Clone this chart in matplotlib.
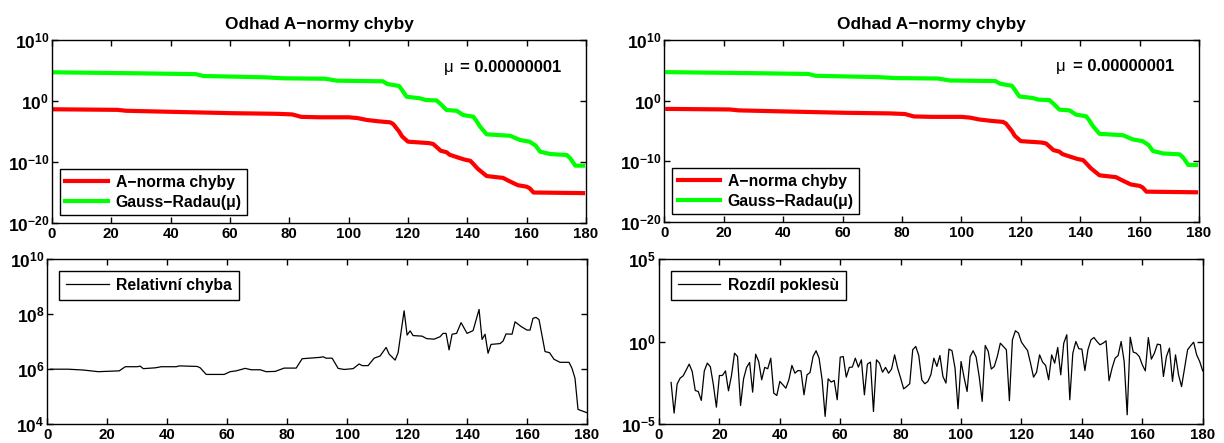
# =============================================================================
# Odhad A-normy chyby : dva panely (Gauss-Radau, mu = 1e-8)
# nahore : A-norma chyby vs. odhad
# dole   : relativni chyba / rozdil poklesu
# =============================================================================

import numpy as np
import matplotlib
matplotlib.use("Agg")
import matplotlib.pyplot as plt
from matplotlib.ticker import FixedLocator, FuncFormatter

plt.rcParams["font.family"] = ["Liberation Sans", "DejaVu Sans"]
plt.rcParams["font.weight"] = "bold"
plt.rcParams["mathtext.fontset"] = "custom"
plt.rcParams["mathtext.rm"] = "Liberation Sans:bold"
plt.rcParams["mathtext.bf"] = "Liberation Sans:bold"

# --- A-norma chyby (exponent log10) ---
anorm_x   = [1, 22, 25, 38, 61, 76, 81, 84, 90, 100, 103, 106, 110, 114, 115, 117,
             118, 120, 124, 127, 128.5, 130, 131, 133, 134, 136, 139, 141, 142,
             143.5, 145, 146.5, 150, 152, 154, 157, 160, 161, 162.3, 179]
anorm_log = [-1.36, -1.45, -1.6, -1.75, -2.0, -2.1, -2.2, -2.6, -2.67, -2.67, -2.8,
             -3.1, -3.33, -3.5, -3.77, -5.0, -5.8, -6.67, -6.8, -6.9, -7.05, -7.7,
             -8.15, -8.4, -8.8, -9.13, -9.6, -9.8, -10.3, -11.1, -11.7, -12.3,
             -12.5, -12.6, -13.1, -13.8, -14.05, -14.3, -15.0, -15.1]

# --- Gauss-Radau(mu) odhad (exponent log10) ---
gr_x   = [1, 29, 48.5, 51, 72, 78, 92, 94, 96, 111.5, 113, 115, 117, 118, 119.5,
          124, 126, 129.6, 131, 133, 136.4, 138.6, 142, 143, 144.3, 146.5, 151,
          154.4, 157.8, 161, 163, 164.5, 168, 173.5, 174.7, 176.4, 179]
gr_log = [4.7, 4.54, 4.4, 4.1, 3.88, 3.72, 3.65, 3.5, 3.33, 3.23, 2.8, 2.62, 2.46,
          1.8, 0.7, 0.44, 0.16, 0.1, -0.5, -1.48, -1.6, -2.3, -2.57, -3.2, -4.2,
          -5.46, -5.6, -5.7, -6.4, -6.67, -7.3, -8.3, -8.7, -8.85, -9.4, -10.6, -10.6]

# --- Relativni chyba (exponent log10) ---
rel_x   = [1, 7, 12, 17, 24, 26, 30, 31, 32, 36, 38, 43, 44, 50, 51, 53, 59, 61, 63,
           66, 68, 71, 73, 76, 79, 83, 85, 91, 92, 93, 95, 97, 99, 102, 104, 105,
           107, 109, 111, 113, 114, 116, 117, 119, 120, 121, 122, 125, 126.5, 129,
           131, 132, 133, 134, 135, 136.5, 138, 140, 142, 144, 145, 146, 147, 148,
           151, 152, 153, 155, 156, 158, 160, 161, 162, 163, 164, 166, 167.5, 169,
           171, 174, 175, 176, 177, 179, 180]
rel_log = [6.0, 6.0, 5.97, 5.91, 5.94, 6.09, 6.09, 6.11, 6.02, 6.05, 6.09, 6.09,
           6.12, 6.10, 6.05, 5.81, 5.81, 5.91, 5.94, 6.03, 5.98, 5.98, 5.91, 5.92,
           6.04, 6.04, 6.38, 6.43, 6.45, 6.40, 6.40, 6.03, 5.99, 6.02, 6.19, 6.13,
           6.13, 6.40, 6.48, 6.79, 6.55, 6.33, 6.6, 8.12, 7.24, 7.39, 7.22, 7.2,
           7.11, 7.09, 7.18, 7.30, 7.30, 6.7, 7.27, 7.3, 7.69, 7.3, 7.4, 8.17, 7.08,
           7.27, 6.58, 6.9, 6.93, 7.02, 7.28, 7.27, 7.72, 7.55, 7.42, 7.42, 7.85,
           7.88, 7.80, 6.64, 6.6, 6.36, 6.25, 6.25, 6.03, 5.67, 4.54, 4.46, 4.42]

# --- Rozdil poklesu (exponent log10), iterace 4..180 ---
rozdil_start = 4
rozdil_log = [
    -2.48, -4.34, -2.58, -2.22, -2.08, -1.72, -1.37, -1.82, -2.97, -3.03,
    -3.57, -1.78, -1.31, -1.53, -2.62, -3.98, -2.06, -2.06, -1.78, -2.99,
    -2.06, -0.71, -0.91, -3.88, -2.26, -1.57, -1.27, -3.07, -0.77, -1.21,
    -2.32, -1.57, -1.65, -1.01, -3.13, -3.27, -2.42, -2.62, -2.83, -2.32,
    -1.45, -1.92, -1.76, -1.78, -3.23, -2.02, -1.88, -0.91, -0.56, -1.01,
    -2.32, -4.54, -2.26, -2.46, -2.36, -3.53, -0.95, -0.91, -2.16, -1.57,
    -1.55, -1.01, -1.55, -1.11, -3.23, -1.37, -1.25, -4.24, -1.11, -1.31,
    -1.86, -1.57, -1.92, -1.67, -0.81, -1.61, -2.22, -2.87, -2.73, -2.56,
    -0.50, -0.30, -0.85, -2.32, -2.56, -2.42, -2.02, -1.01, -1.51, -0.85,
    -2.12, -2.52, -0.46, -0.56, -1.61, -4.08, -1.21, -2.18, -3.03, -0.91,
    -0.56, -0.95, -2.12, -3.63, -0.24, -0.60, -1.67, -1.51, -0.91, -0.10,
    -0.30, -0.50, -3.59, 0.10, 0.65, 0.51, -0.04, -0.30, -0.54, -1.31,
    -2.16, -1.86, -0.81, -1.25, -1.45, -2.32, -0.81, -1.31, -0.36, -2.02,
    -0.10, 0.41, -3.53, -0.71, 0.00, -0.44, -0.46, -1.76, -0.50, 0.10,
    0.24, 0.00, -0.20, -0.10, 0.04, -2.38, -1.61, -1.01, -0.85, 0.00,
    -1.21, -4.44, 0.26, -0.64, -0.71, -0.91, -1.41, -1.78, 0.24, -1.07,
    -0.71, -0.16, -0.20, -2.12, -0.91, -0.40, -2.42, -0.81, -2.02, -2.73,
    -1.61, -0.50, -0.26, -0.04, -0.81, -1.21, -1.78,
]

x_ticks = [0, 20, 40, 60, 80, 100, 120, 140, 160, 180]

W, H = 1224, 443


def rect(left, top, right, bottom):
    # pixely -> souradnice figury
    return [left / W, 1 - bottom / H, (right - left) / W, (bottom - top) / H]


def pow10(v, pos):
    return r"$\mathbf{10^{%d}}$" % int(round(np.log10(v)))


def styl_os(ax, y_exps, ylim_exp):
    ax.set_yscale("log")
    ax.set_xlim(0, 180)
    ax.set_ylim(10.0 ** ylim_exp[0], 10.0 ** ylim_exp[1])
    ax.xaxis.set_major_locator(FixedLocator(x_ticks))
    ax.yaxis.set_major_locator(FixedLocator([10.0 ** e for e in y_exps]))
    ax.yaxis.set_minor_locator(FixedLocator([]))
    ax.yaxis.set_major_formatter(FuncFormatter(pow10))
    ax.tick_params(which="both", direction="in", top=True, right=True,
                   length=4, width=1, pad=3)
    ax.tick_params(axis="x", labelsize=10.8)
    ax.tick_params(axis="y", labelsize=12.5, pad=2)
    for lab in ax.get_xticklabels():
        lab.set_fontweight("bold")
    for s in ax.spines.values():
        s.set_linewidth(1.0)


def horni_panel(rect_px):
    ax = fig.add_axes(rect(*rect_px))
    ax.plot(anorm_x, 10.0 ** np.array(anorm_log), color="#ff0000", linewidth=3,
            solid_joinstyle="round", label="A\u2212norma chyby")
    ax.plot(gr_x, 10.0 ** np.array(gr_log), color="#00ff00", linewidth=3,
            solid_joinstyle="round", label="Gauss\u2212Radau(\u03bc)")
    styl_os(ax, [-20, -10, 0, 10], (-20, 10))
    ax.set_title("Odhad A\u2212normy chyby", fontsize=12.4, fontweight="bold", pad=8)
    ax.text(0.751, 0.852, "\u03bc", transform=ax.transAxes,
            ha="right", va="center", fontsize=12, fontweight="normal")
    ax.text(0.764, 0.852, "= 0.00000001", transform=ax.transAxes,
            ha="left", va="center", fontsize=12, fontweight="bold")
    leg = ax.legend(loc="lower left", fontsize=11.3, handlelength=2.7,
                    fancybox=False, edgecolor="black", framealpha=1,
                    borderaxespad=0.5, labelspacing=0.3, handletextpad=0.5,
                    borderpad=0.35)
    leg.get_frame().set_linewidth(1.0)
    return ax


def dolni_panel(rect_px, x, y_log, label, y_exps, ylim_exp):
    ax = fig.add_axes(rect(*rect_px))
    ax.plot(x, 10.0 ** np.array(y_log), color="black", linewidth=0.9, label=label)
    styl_os(ax, y_exps, ylim_exp)
    leg = ax.legend(loc="upper left", fontsize=11.3, handlelength=2.7,
                    fancybox=False, edgecolor="black", framealpha=1,
                    borderaxespad=0.75, handletextpad=0.5, borderpad=0.45)
    leg.get_frame().set_linewidth(1.0)
    return ax


fig = plt.figure(figsize=(W / 100, H / 100), dpi=100)

# Panel vlevo
horni_panel((52, 40, 586, 223))
dolni_panel((47.3, 259, 587, 424.3), rel_x, rel_log, "Relativn\u00ed chyba",
            [4, 6, 8, 10], (4, 10))

# Panel vpravo
horni_panel((664.3, 40, 1199, 222))
rozdil_x = np.arange(rozdil_start, rozdil_start + len(rozdil_log))
dolni_panel((659, 259, 1202.7, 424), rozdil_x, rozdil_log, "Rozd\u00edl pokles\u00f9",
            [-5, 0, 5], (-5, 5))

fig.savefig("out.png", dpi=100)
